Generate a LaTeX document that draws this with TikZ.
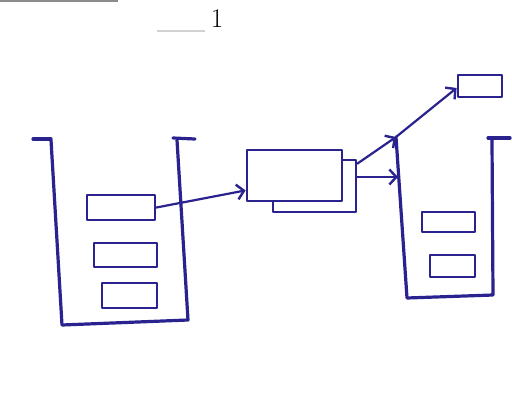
\documentclass[tikz,border=0pt]{standalone}
\usetikzlibrary{arrows.meta}
\definecolor{ink}{RGB}{42,34,142}
\begin{document}
\begin{tikzpicture}[x=1pt,y=-1pt,
  inkline/.style={draw=ink, line width=3.2pt, line cap=round, line join=round},
  slot/.style={inkline, line width=2.8pt, rectangle, inner sep=0pt, fill=white},
  flow/.style={inkline, line width=2.2pt, -{Straight Barb[length=7pt,width=15pt,line width=2.4pt]}},
  smudge/.style={draw=black!35, line width=1.2pt}]
\useasboundingbox (0,0) rectangle (512,407);
\fill[white] (0,0) rectangle (512,407);

% page header
\draw[smudge, draw=black!45, line width=2pt] (0,1) -- (118,1);
\draw[smudge, draw=black!18] (157,31) -- (205,31);
\node[font=\fontsize{27}{30}\selectfont] (pagenum) at (217,19) {1};

% left container
\draw[inkline] (33,139) -- (51,139);
\draw[inkline] (51,140) -- (62,325) -- (188,320) -- (177,140);
\draw[inkline] (173,138) -- (195,139);
\node[slot, minimum width=68pt, minimum height=25pt] (l1) at (121,207.5) {};
\node[slot, minimum width=63pt, minimum height=24pt] (l2) at (125.5,255) {};
\node[slot, minimum width=55pt, minimum height=25pt] (l3) at (129.5,295.5) {};

% middle pair of boxes
\node[slot, minimum width=83pt, minimum height=52pt] (back) at (314.5,186) {};
\node[slot, minimum width=95pt, minimum height=51pt] (front) at (294.5,175.5) {};

% right container
\draw[inkline] (396,137) -- (407,298) -- (493,295) -- (492,140);
\draw[inkline] (488,138) -- (510,138);
\coordinate (walltop) at (396,137);
\coordinate (wallmid) at (398,177);
\node[slot, minimum width=53pt, minimum height=20pt] (r1) at (448.5,222) {};
\node[slot, minimum width=45pt, minimum height=22pt] (r2) at (452.5,266) {};

% small box at top right
\node[slot, minimum width=44pt, minimum height=22pt] (top) at (480,86) {};

% connectors
\draw[flow] (l1.east) -- ([yshift=12pt]front.south west);
\draw[flow] ([yshift=-5pt]back.north east) -- (walltop);
\draw[flow] (walltop) -- ([yshift=-2pt]top.west);
\draw[flow] ([yshift=9pt]back.east) -- (wallmid);
\end{tikzpicture}
\end{document}
